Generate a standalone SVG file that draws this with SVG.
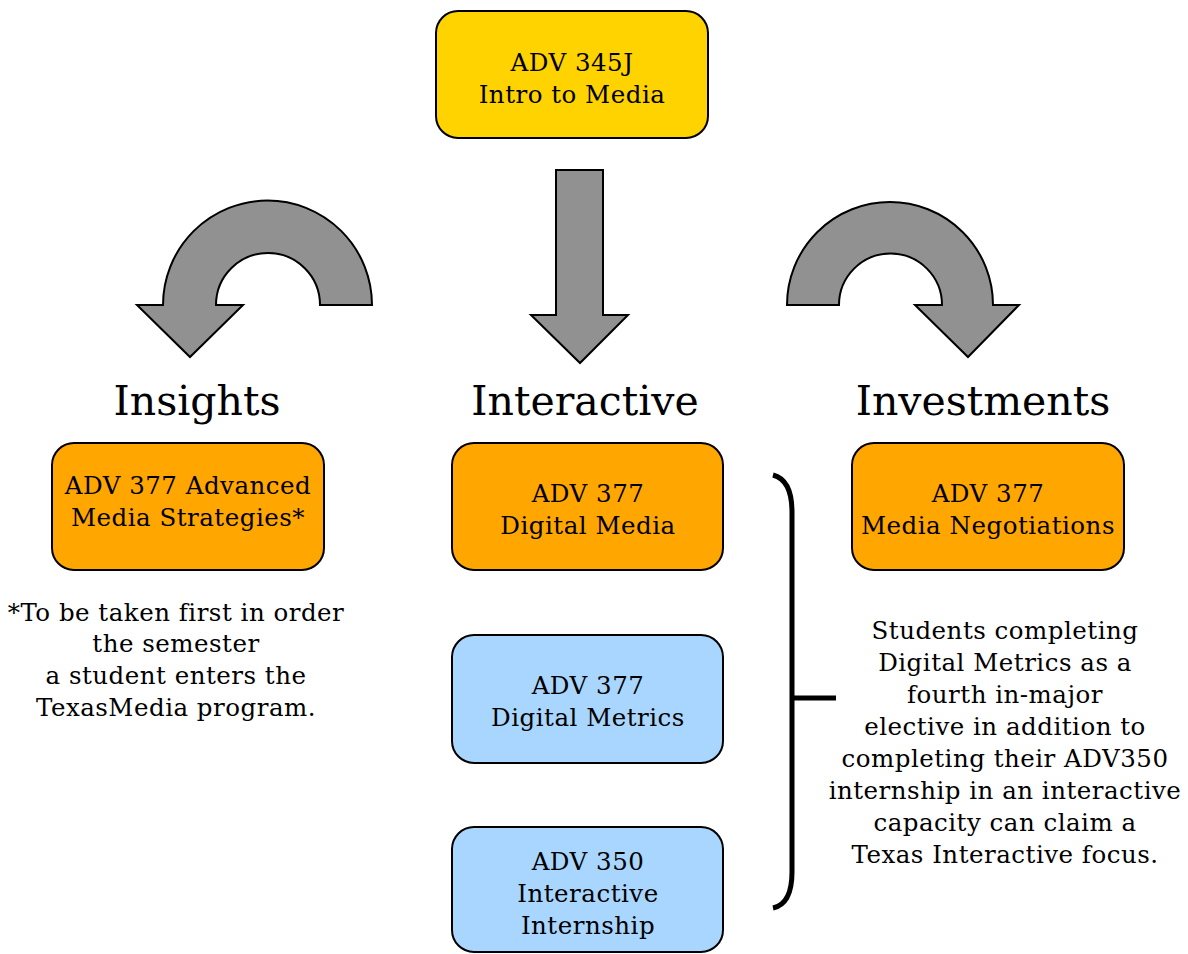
<svg xmlns="http://www.w3.org/2000/svg" width="1188" height="954" viewBox="0 0 1188 954">
<style>
.box{stroke:#000;stroke-width:2}
.yel{fill:#FFD300}
.org{fill:#FFA600}
.blu{fill:#A9D6FF}
.t{font-family:"DejaVu Serif","Liberation Serif",serif;font-size:24.5px;letter-spacing:0.5px;fill:#000;text-anchor:middle}
.h{font-family:"DejaVu Serif","Liberation Serif",serif;font-size:41px;fill:#000;text-anchor:middle}
.arr{fill:#919191;stroke:#000;stroke-width:2;stroke-linejoin:miter}
</style>
<rect width="1188" height="954" fill="#fff"/>
<g id="connectors">
<path class="arr" d="M372,305 A104.5,104.5 0 0 0 163,305 L137,305 L190,357 L243,305 L216,305 A52,52 0 0 1 320,305 Z"/>
<path class="arr" d="M556,170 L603,170 L603,315 L628,315 L580,363 L531,315 L556,315 Z"/>
<path class="arr" d="M787,305 A103,103 0 0 1 993,305 L1019,305 L968,357 L915,305 L942,305 A51.5,51.5 0 0 0 839,305 Z"/>
<path d="M773,475 Q792,480 792,512 L792,872 Q792,904 773,908 M792,698 L836,698" fill="none" stroke="#000" stroke-width="5"/>
</g>
<g id="intro">
<rect class="box yel" x="436" y="11" width="272" height="127" rx="22"/>
<text class="t" x="572" y="71">ADV 345J</text>
<text class="t" x="572" y="103">Intro to Media</text>
</g>
<g id="h-insights"><text class="h" x="197" y="415">Insights</text></g>
<g id="h-interactive"><text class="h" x="585" y="415">Interactive</text></g>
<g id="h-investments"><text class="h" x="983" y="415">Investments</text></g>
<g id="advanced">
<rect class="box org" x="52" y="443" width="272" height="127" rx="22"/>
<text class="t" x="188" y="494">ADV 377 Advanced</text>
<text class="t" x="188" y="526">Media Strategies*</text>
</g>
<g id="digital-media">
<rect class="box org" x="452" y="443" width="271" height="127" rx="22"/>
<text class="t" x="588" y="502">ADV 377</text>
<text class="t" x="588" y="534">Digital Media</text>
</g>
<g id="negotiations">
<rect class="box org" x="852" y="443" width="272" height="127" rx="22"/>
<text class="t" x="988" y="502">ADV 377</text>
<text class="t" x="988" y="534">Media Negotiations</text>
</g>
<g id="metrics">
<rect class="box blu" x="452" y="635" width="271" height="128" rx="22"/>
<text class="t" x="588" y="694">ADV 377</text>
<text class="t" x="588" y="726">Digital Metrics</text>
</g>
<g id="internship">
<rect class="box blu" x="452" y="827" width="271" height="125" rx="22"/>
<text class="t" x="588" y="870">ADV 350</text>
<text class="t" x="588" y="902">Interactive</text>
<text class="t" x="588" y="934">Internship</text>
</g>
<g id="note-insights">
<text class="t" x="176" y="621">*To be taken first in order</text>
<text class="t" x="176" y="652">the semester</text>
<text class="t" x="176" y="684">a student enters the</text>
<text class="t" x="176" y="716">TexasMedia program.</text>
</g>
<g id="note-interactive">
<text class="t" x="1005" y="639">Students completing</text>
<text class="t" x="1005" y="671">Digital Metrics as a</text>
<text class="t" x="1005" y="703">fourth in-major</text>
<text class="t" x="1005" y="735">elective in addition to</text>
<text class="t" x="1005" y="767">completing their ADV350</text>
<text class="t" x="1005" y="799">internship in an interactive</text>
<text class="t" x="1005" y="831">capacity can claim a</text>
<text class="t" x="1005" y="863">Texas Interactive focus.</text>
</g>
</svg>
